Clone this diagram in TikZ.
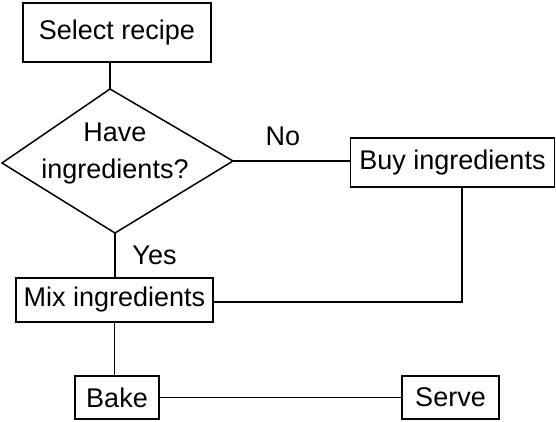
\documentclass[tikz,border=0pt]{standalone}
\usepackage{fontspec}
\setmainfont{Liberation Sans}
\begin{document}
\begin{tikzpicture}[x=1pt,y=-1pt,
  every node/.style={font=\fontsize{27}{37}\selectfont, inner sep=0pt},
  stepbox/.style={draw, line width=1.6pt, rectangle},
  link/.style={line width=1.5pt},
  lbl/.style={}]
\useasboundingbox (0,0) rectangle (556,421);

% process boxes
\node[stepbox, minimum width=188pt, minimum height=59pt] (select) at (117,32.5) {Select recipe};
\node[stepbox, minimum width=204pt, minimum height=49pt] (buy) at (452.5,162.5) {Buy ingredients};
\node[stepbox, minimum width=197pt, minimum height=44pt] (mix) at (114.5,300) {Mix ingredients};
\node[stepbox, minimum width=84pt, minimum height=43pt] (bake) at (117,397.5) {Bake};
\node[stepbox, minimum width=97pt, minimum height=43pt] (serve) at (450.5,397.5) {Serve};

% decision diamond
\coordinate (dtop) at (110,89);
\coordinate (dright) at (233,161);
\coordinate (dbot) at (115,233);
\coordinate (dleft) at (2,163);
\draw[link] (dtop) -- (dright) -- (dbot) -- (dleft) -- cycle;
\node[align=center] (ask) at (115,153.5) {Have\\ingredients?};

% connectors
\coordinate (bend) at (462,302);
\draw[link] (dtop |- select.south) -- (dtop);
\draw[link] (dright) -- (dright -| buy.west);
\draw[link] (dbot) -- (dbot |- mix.north);
\draw[link] (bend |- buy.south) -- (bend) -- (mix.east |- bend);
\draw[link] (mix.south) -- (mix.south |- bake.north);
\draw[link] (bake.east) -- (bake.east -| serve.west);

% branch labels
\node[lbl] (no) at (283,136.5) {No};
\node[lbl] (yes) at (154.5,255) {Yes};
\end{tikzpicture}
\end{document}
